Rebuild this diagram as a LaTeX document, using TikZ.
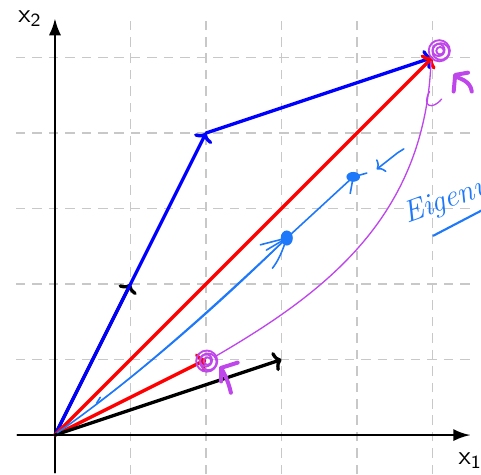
\documentclass[tikz,border=0pt]{standalone}
\usetikzlibrary{arrows.meta}
\definecolor{gridgray}{RGB}{200,200,200}
\definecolor{lblue}{RGB}{30,120,250}
\definecolor{purp}{RGB}{190,70,235}
\begin{document}
\begin{tikzpicture}[x=1cm,y=1cm,
  gridline/.style={gridgray, line width=0.55pt, dash pattern=on 3.6pt off 2.6pt},
  axis/.style={line width=1pt, -{Latex[length=6.4pt,width=4.6pt]}},
  vec/.style={line width=1.25pt, -{To[length=3pt,width=7.5pt]}, line cap=round},
  hand/.style={lblue, line width=0.6pt, line cap=round, line join=round},
  phand/.style={purp, line width=0.5pt, line cap=round},
  pthick/.style={purp, line width=1.5pt, line cap=round, line join=round},
  lbl/.style={font=\sffamily}]
\useasboundingbox (-0.728,-0.517) rectangle (5.642,5.762);
\clip (-0.728,-0.517) rectangle (5.642,5.762);
% grid
\draw[gridline] (-0.52,-0.52) grid[step=1] (5.5,5.5);
% axes
\coordinate (xs) at (-0.5,0); \coordinate (xe) at (5.5,0);
\coordinate (ys) at (0,-0.5); \coordinate (ye) at (0,5.52);
\draw[axis] (xs) -- (xe);
\draw[axis] (ys) -- (ye);
\node[lbl] (xlab) at (5.5,-0.34) {x\textsubscript{1}};
\node[lbl] (ylab) at (-0.33,5.52) {x\textsubscript{2}};
% points
\coordinate (O) at (0,0);
\coordinate (A) at (1,2);
\coordinate (B) at (2,4);
\coordinate (C) at (5,5);
\coordinate (D) at (3,1);
\coordinate (E) at (2,1);
% vectors
\draw[vec, black] (O) -- (A);
\draw[vec, blue] (O) -- (B);
\draw[vec, blue] (B) -- (C);
\draw[vec, red] (O) -- (C);
\draw[vec, red] (O) -- (E);
\draw[vec, black] (O) -- (D);
% hand-drawn light blue eigen direction
\coordinate (P1) at (3.07,2.61);
\coordinate (P2) at (3.95,3.42);
\coordinate (P3) at (4.13,3.47);
\draw[hand] (0.03,0.03) .. controls (1.0,0.7) and (2.0,1.6) .. (P1) -- (P2) -- (P3);
\draw[hand, line width=0.45pt] (0.6,0.45) .. controls (1.4,1.05) and (2.3,1.85) .. (P1);
\draw[hand] (0.55,0.42) -- (0.6,0.5);
\fill[lblue] (P1) ellipse (0.08 and 0.1);
\draw[hand] (2.72,2.52) -- (P1);
\draw[hand] (2.80,2.45) -- (P1) .. controls (3.0,2.4) and (2.95,2.3) .. (2.88,2.21);
\fill[lblue] (P2) ellipse (0.09 and 0.065);
\draw[hand] (P2) -- (3.91,3.2);
\draw[hand, -{To[length=2.5pt,width=6pt]}] (4.62,3.79) -- (4.54,3.74) -- (4.26,3.52);
\node[lblue, font=\itshape\fontsize{11.5}{14}\selectfont, rotate=20, anchor=base west, inner sep=0pt] (eig) at (4.66,2.8) {Eigenv};
\draw[hand, line width=0.8pt] (5.01,2.64) -- (5.66,2.98);
% purple
\coordinate (Q1) at (2.01,0.98);
\coordinate (Q2) at (5.09,5.09);
\draw[phand] (2.12,1.04) .. controls (3.6,1.9) and (4.9,2.9) .. (4.98,4.95);
\draw[phand] (4.96,4.55) .. controls (4.85,4.35) and (5.0,4.3) .. (5.12,4.45);
\foreach \r/\dx/\dy in {0.14/0/0, 0.11/0.02/-0.01, 0.08/-0.01/0.01, 0.05/0.01/0}{
  \draw[purp, line width=0.7pt] ([shift={(\dx,\dy)}]Q1) circle (\r);
  \draw[purp, line width=0.7pt] ([shift={(\dx,\dy)}]Q2) circle (\r);
}
\draw[pthick] (2.33,0.56) .. controls (2.3,0.7) and (2.25,0.8) .. (2.2,0.89);
\draw[pthick] (2.2,0.71) -- (2.2,0.89) -- (2.42,0.96);
\draw[pthick] (5.52,4.55) .. controls (5.5,4.7) and (5.35,4.72) .. (5.31,4.75);
\draw[pthick] (5.28,4.55) -- (5.3,4.77) -- (5.47,4.8);
\end{tikzpicture}
\end{document}
